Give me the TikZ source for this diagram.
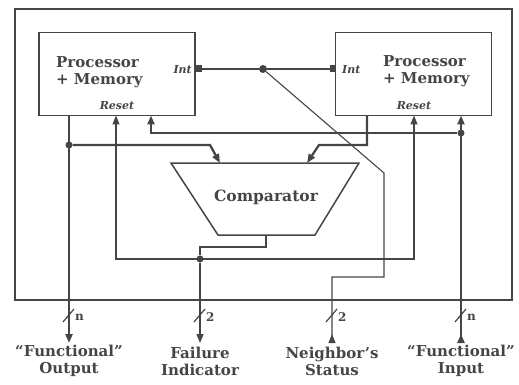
\documentclass[tikz,border=0pt]{standalone}
\usepackage{fontspec}
\setmainfont{DejaVu Serif}
\usetikzlibrary{arrows.meta}
\definecolor{ink}{gray}{0.27}

\begin{document}
\begin{tikzpicture}[x=1pt,y=-1pt,
% boxes for the two processors
proc box/.style={draw=ink, line width=1.6pt, minimum width=156pt, minimum height=83pt, inner sep=0pt},
% text inside the boxes
proc text/.style={anchor=west, align=left, inner sep=0pt, text=ink, font=\fontsize{15}{16.5}\selectfont\bfseries},
% heavy lines carrying n bits
bus/.style={draw=ink, line width=2.3pt},
% thin control lines
ctrl/.style={draw=ink, line width=1.1pt},
% junction dots
jdot/.style={circle, fill=ink, inner sep=0pt, minimum size=7pt},
% interrupt pins
pin/.style={rectangle, fill=ink, inner sep=0pt, minimum width=6pt, minimum height=7pt},
% small italic pin names
pin name/.style={inner sep=0pt, text=ink, font=\fontsize{11}{12}\selectfont\bfseries\itshape},
% labels under the picture
io label/.style={align=center, inner sep=0pt, text=ink, font=\fontsize{15}{17}\selectfont\bfseries},
>={Triangle[width=7pt,length=9pt]}
]
\useasboundingbox (0,0) rectangle (519,385);

% enclosing module
\draw[ink, line width=1.8pt] (15,9) rectangle (512,300);

% the two processors
\node[proc box] (procL) at (117,74) {};
\node[proc box] (procR) at (413.5,74) {};
\node[proc text] (nameL) at (56,72) {Processor\\+ Memory};
\node[proc text] (nameR) at (383,71) {Processor\\+ Memory};
\node[pin name, anchor=east] (intLabL) at (192,70) {Int};
\node[pin name, anchor=west] (intLabR) at (342,70) {Int};
\node[pin name] (rstLabL) at (117,106) {Reset};
\node[pin name] (rstLabR) at (414,106) {Reset};

% ports on the box bottoms
\coordinate (outL) at (69,115.5);
\coordinate (rstL) at (116,115.5);
\coordinate (inL) at (151,115.5);
\coordinate (outR) at (367,115.5);
\coordinate (rstR) at (414,115.5);
\coordinate (inR) at (461,115.5);

% comparator
\coordinate (cmpNW) at (171,163);
\coordinate (cmpNE) at (359,163);
\coordinate (cmpSE) at (315,235);
\coordinate (cmpSW) at (218,235);
\draw[ink, line width=1.5pt] (cmpNW) -- (cmpNE) -- (cmpSE) -- (cmpSW) -- cycle;
\node[text=ink, font=\fontsize{15.5}{17}\selectfont\bfseries] (cmp) at (266,197) {Comparator};
\coordinate (cmpInL) at (220,163);
\coordinate (cmpInR) at (307,163);
\coordinate (cmpOut) at (266,235);

% outside ends
\coordinate (fout) at (69,343);
\coordinate (fail) at (200,343);
\coordinate (nstat) at (332,343);
\coordinate (fin) at (461,343);

% junctions
\node[jdot] (jOut) at (69,145) {};
\node[jdot] (jIn) at (461,133) {};
\node[jdot] (jRst) at (200,259) {};

% interrupt link
\node[pin] (intL) at (199,69) {};
\node[pin] (intR) at (333,69) {};
\node[jdot, minimum width=8pt, minimum height=6pt] (tap) at (263,69) {};
\draw[ctrl] (intL) -- (tap) -- (intR);
\draw[ctrl, {Triangle[reversed,width=7pt,length=9pt]}-] (nstat) -- (332,277) -- (384,277) -- (384,173) -- (tap);

% functional output and comparator inputs
\draw[bus, ->] (outL) -- (fout);
\draw[bus, ->] (jOut) -- (210,145) -- (cmpInL);
\draw[bus, ->] (outR) -- (367,145) -- (319,145) -- (cmpInR);

% functional input
\draw[bus, {Triangle[reversed,width=7pt,length=9pt]}->] (fin) -- (inR);
\draw[bus, ->] (jIn) -- (151,133) -- (inL);

% reset and failure lines
\draw[ctrl, <->] (rstL) -- (116,259) -- (414,259) -- (rstR);
\draw[ctrl] (cmpOut) -- (266,247) -- (200,247) -- (jRst);
\draw[ctrl, line width=1.4pt, ->] (jRst) -- (fail);

% bus widths
\foreach \x/\w [count=\k] in {69/n,200/2,332/2,461/n} {
  \draw[ink, line width=1.2pt] (\x-6,322) -- (\x+5,309);
  \node[anchor=west, inner sep=0pt, text=ink, font=\fontsize{12}{13}\selectfont\bfseries] (width\k) at (\x+6,317) {\w};
}

% labels
\node[io label] (foutLab) at (69,361) {``Functional''\\Output};
\node[io label] (failLab) at (200,361) {Failure\\Indicator};
\node[io label] (nstatLab) at (332,361) {Neighbor's\\Status};
\node[io label] (finLab) at (461,361) {``Functional''\\Input};
\end{tikzpicture}
\end{document}
